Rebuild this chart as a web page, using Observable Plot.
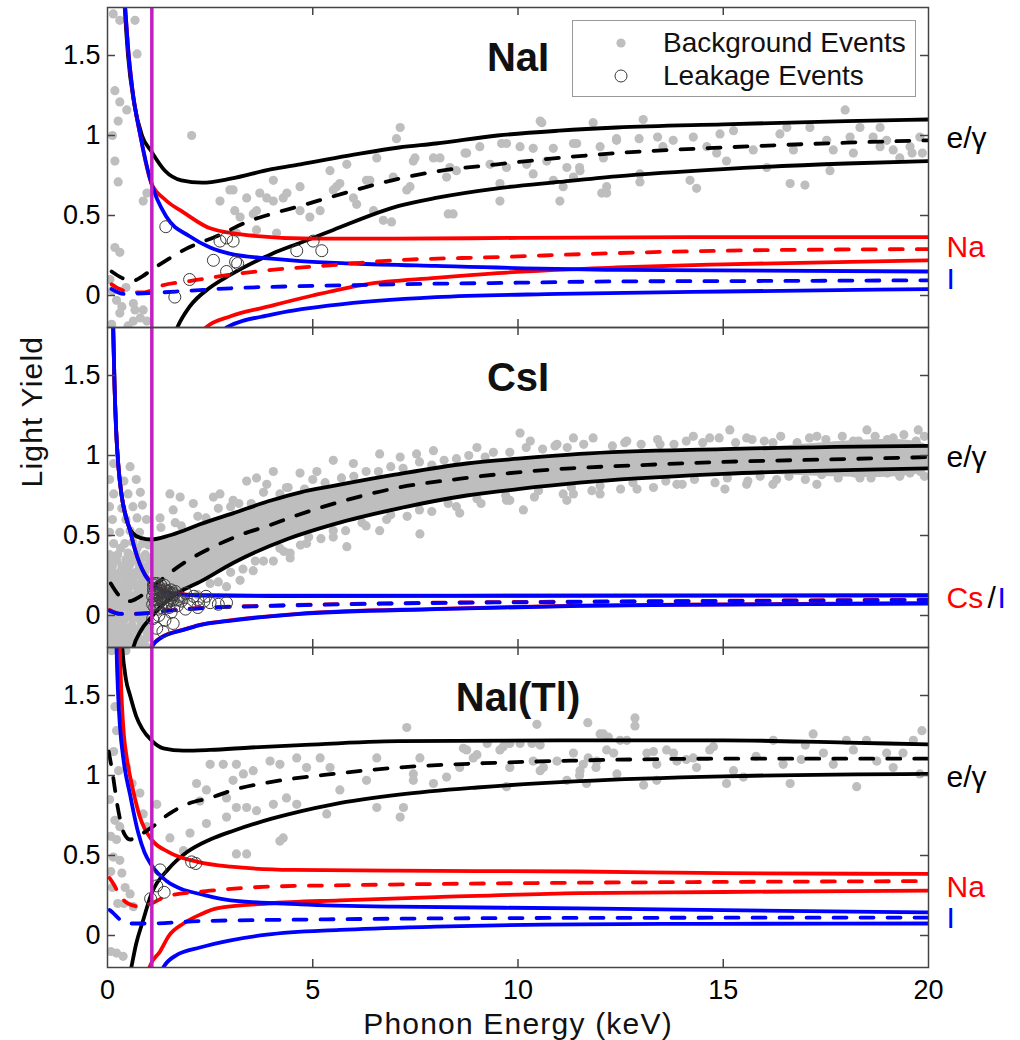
<!DOCTYPE html>
<html><head><meta charset="utf-8">
<script src="https://cdn.jsdelivr.net/npm/d3@7"></script>
<script src="https://cdn.jsdelivr.net/npm/@observablehq/plot@0.6"></script>
<style>
body{margin:0;background:#fff;font-family:"Liberation Sans",Arial,sans-serif;}
#wrap{position:relative;width:1020px;height:1040px;}
#legend{position:absolute;left:572px;top:20px;width:342px;height:75px;border:1.5px solid #999;background:#fff;}
#legend .row{position:absolute;left:0;height:32px;width:340px;}
#legend svg{position:absolute;left:38px;top:6px;}
#legend span{position:absolute;left:90px;top:0;font-size:28px;line-height:32px;color:#111;white-space:nowrap;}
</style></head><body><div id="wrap"></div><script>
// ---------- data ----------
const panels = ["NaI","CsI","NaI(Tl)"];
const xTicks = [0,5,10,15,20];
const xTickLabels = ["0","5","10","15","20"];
const yTicks = [0,0.5,1,1.5];
const yTickLabels = ["0","0.5","1","1.5"];
const thresholdKeV = 1.08;

// NaI curves
const naiEgUp  = [[0.36,2.1],[0.42,1.8],[0.5,1.5],[0.65,1.2],[0.84,1.0],[1.07,0.9],[1.4,0.78],[1.8,0.72],[2.3,0.705],[3,0.73],[4,0.79],[4.7,0.82],[6,0.88],[7.1,0.925],[8,0.95],[9.5,1.0],[11,1.03],[12.4,1.05],[15,1.07],[18,1.09],[20,1.1]];
const naiEgMid = [[0.1,0.15],[0.35,0.11],[0.6,0.09],[0.85,0.12],[1.07,0.16],[1.5,0.23],[1.9,0.29],[2.7,0.375],[3.4,0.46],[4,0.51],[4.7,0.56],[5.5,0.62],[7.1,0.73],[8,0.775],[9.5,0.82],[11,0.86],[12.4,0.89],[15,0.925],[18,0.955],[20,0.97]];
const naiEgLow = [[1.55,-0.3],[1.7,-0.2],[2,-0.07],[2.5,0.05],[3,0.13],[4,0.26],[4.7,0.33],[5.5,0.41],[7.1,0.56],[8,0.61],[9.5,0.67],[11,0.71],[12.4,0.745],[15,0.79],[18,0.825],[20,0.84]];
const naiNaUp  = [[0.36,2.1],[0.43,1.8],[0.5,1.55],[0.6,1.3],[0.8,1.0],[1.07,0.7],[1.4,0.6],[1.85,0.52],[2.5,0.42],[3.5,0.375],[5,0.355],[7,0.355],[10,0.36],[15,0.365],[20,0.365]];
const naiNaMid = [[0.1,0.07],[0.3,0.04],[0.6,0.02],[0.9,0.02],[1.3,0.06],[2,0.09],[3,0.13],[4,0.16],[5,0.18],[7,0.22],[9.5,0.24],[12.4,0.265],[15,0.28],[20,0.29]];
const naiNaLow = [[2.2,-0.3],[2.4,-0.2],[3,-0.13],[3.9,-0.07],[5,0.0],[6.3,0.07],[8,0.11],[9.5,0.14],[12.4,0.175],[15,0.195],[20,0.22]];
const naiIUp   = [[0.36,2.1],[0.43,1.8],[0.5,1.55],[0.6,1.3],[0.8,1.0],[1.07,0.7],[1.44,0.49],[2,0.37],[2.5,0.3],[3,0.26],[4,0.23],[4.7,0.215],[6,0.2],[8,0.185],[12.4,0.16],[20,0.15]];
const naiIMid  = [[0.1,0.04],[0.4,0.01],[1,0.015],[2,0.03],[3,0.045],[5,0.06],[7,0.07],[10,0.08],[12.4,0.088],[15,0.09],[20,0.095]];
const naiILow  = [[2.7,-0.3],[2.9,-0.2],[4,-0.12],[5.5,-0.06],[8,-0.01],[11,0.01],[15,0.025],[20,0.04]];

// CsI curves
const csiEgUp  = [[0.12,2.1],[0.14,1.78],[0.17,1.45],[0.21,1.16],[0.27,0.92],[0.35,0.74],[0.45,0.61],[0.6,0.52],[0.8,0.485],[1.07,0.475],[1.5,0.5],[1.85,0.53],[2.25,0.57],[3.07,0.64],[4,0.72],[4.7,0.77],[5.5,0.81],[7,0.88],[8.75,0.95],[10,0.98],[11.5,1.01],[15,1.04],[20,1.06]];
const csiEgMid = [[0.08,0.2],[0.3,0.12],[0.55,0.09],[0.8,0.12],[1.07,0.17],[1.44,0.25],[1.93,0.34],[2.5,0.42],[3.2,0.5],[3.9,0.56],[4.6,0.625],[5.8,0.72],[7.1,0.8],[8.6,0.855],[10,0.895],[11.3,0.92],[13,0.94],[15,0.96],[17.5,0.975],[20,0.99]];
const csiEgLow = [[0.55,-0.3],[0.63,-0.2],[0.8,-0.1],[1.07,-0.01],[1.4,0.08],[1.85,0.16],[2.25,0.21],[3.07,0.33],[4.4,0.48],[5.5,0.57],[7.1,0.67],[8.75,0.75],[10,0.79],[11.5,0.83],[15,0.885],[20,0.92]];
const csiCsUp  = [[0.12,2.1],[0.14,1.78],[0.17,1.45],[0.21,1.16],[0.27,0.92],[0.35,0.74],[0.45,0.62],[0.55,0.53],[0.65,0.43],[0.79,0.32],[0.92,0.255],[1.07,0.205],[1.44,0.15],[1.8,0.133],[2.25,0.127],[4,0.124],[10,0.125],[20,0.127]];
const csiCsMid = [[0.05,0.035],[0.3,0.012],[0.7,0.012],[1.5,0.032],[2.25,0.047],[4,0.062],[7,0.077],[11.5,0.087],[15,0.092],[20,0.099]];
const csiCsLow = [[0.98,-0.3],[1.07,-0.2],[1.3,-0.138],[1.85,-0.088],[2.25,-0.058],[3.07,-0.028],[4.7,0.012],[8,0.042],[11.5,0.062],[15,0.07],[20,0.077]];
const csiIUp   = [[0.12,2.1],[0.14,1.78],[0.17,1.45],[0.21,1.16],[0.27,0.92],[0.35,0.74],[0.45,0.62],[0.55,0.53],[0.65,0.43],[0.79,0.32],[0.92,0.25],[1.07,0.2],[1.44,0.145],[1.8,0.13],[2.25,0.125],[4,0.122],[10,0.123],[20,0.125]];
const csiIMid  = [[0.05,0.03],[0.3,0.01],[0.7,0.01],[1.5,0.03],[2.25,0.045],[4,0.06],[7,0.075],[11.5,0.085],[15,0.09],[20,0.097]];
const csiILow  = [[0.98,-0.3],[1.07,-0.2],[1.3,-0.14],[1.85,-0.09],[2.25,-0.06],[3.07,-0.03],[4.7,0.01],[8,0.04],[11.5,0.06],[15,0.068],[20,0.075]];

// NaI(Tl) curves
const tlEgUp  = [[0.3,2.1],[0.36,1.8],[0.45,1.6],[0.55,1.5],[0.7,1.37],[0.85,1.29],[1.07,1.22],[1.36,1.17],[1.85,1.155],[2.5,1.16],[3.5,1.175],[4.7,1.19],[7.1,1.215],[11,1.22],[15,1.22],[18,1.205],[20,1.195]];
const tlEgMid = [[0.03,1.15],[0.12,1.02],[0.25,0.8],[0.4,0.64],[0.55,0.6],[0.8,0.63],[1.07,0.675],[1.5,0.76],[1.93,0.82],[2.5,0.86],[3.07,0.91],[4,0.96],[5.5,1.01],[7.1,1.05],[9.5,1.08],[11.5,1.094],[15,1.105],[20,1.105]];
const tlEgLow = [[0.5,-0.3],[0.58,-0.2],[0.7,-0.05],[0.85,0.08],[1.07,0.26],[1.5,0.42],[1.93,0.52],[2.5,0.6],[3.07,0.655],[4,0.73],[5.5,0.82],[7.1,0.88],[9,0.925],[11.5,0.965],[15,0.995],[20,1.01]];
const tlNaUp  = [[0.27,2.1],[0.3,1.8],[0.35,1.45],[0.4,1.25],[0.47,1.11],[0.63,0.9],[0.79,0.74],[0.9,0.67],[1.07,0.6],[1.5,0.52],[2.2,0.46],[3,0.43],[4.5,0.41],[7,0.405],[11.5,0.4],[15,0.39],[20,0.385]];
const tlNaMid = [[0.05,0.36],[0.14,0.325],[0.3,0.25],[0.5,0.2],[0.8,0.18],[1.07,0.2],[1.44,0.245],[2.5,0.28],[3.9,0.305],[6,0.315],[11.5,0.33],[15,0.335],[20,0.34]];
const tlNaLow = [[0.97,-0.3],[1.02,-0.2],[1.28,-0.1],[1.5,0.0],[1.85,0.075],[2.25,0.13],[2.66,0.17],[3.9,0.2],[5.66,0.22],[8,0.24],[11.5,0.265],[15,0.272],[20,0.28]];
const tlIUp   = [[0.2,2.1],[0.22,1.8],[0.26,1.5],[0.3,1.32],[0.4,1.08],[0.55,0.88],[0.75,0.64],[0.9,0.52],[1.07,0.44],[1.44,0.34],[1.8,0.29],[2.25,0.26],[3,0.22],[4.7,0.195],[7,0.18],[11.5,0.17],[15,0.158],[20,0.145]];
const tlIMid  = [[0.05,0.16],[0.14,0.14],[0.3,0.1],[0.47,0.075],[1,0.075],[2.25,0.09],[5,0.1],[11.5,0.11],[20,0.112]];
const tlILow  = [[1.3,-0.3],[1.36,-0.2],[1.7,-0.12],[2.25,-0.075],[3,-0.03],[3.88,0.005],[5.66,0.035],[8,0.055],[11.5,0.07],[15,0.073],[20,0.075]];

// background events
const naiBg = [[0.14,1.76],[0.3,1.72],[0.67,1.72],[0.72,1.51],[0.18,1.28],[0.3,1.21],[0.26,1.09],[0.47,1.16],[0.12,1.0],[0.18,0.84],[0.26,0.71],[0.87,0.59],[0.96,0.64],[0.18,0.3],[0.3,0.27],[0.22,-0.03],[0.35,-0.07],[0.67,-0.09],[0.8,-0.14],[0.96,-0.16],[0.1,-0.18],[0.5,-0.19],[0.06,0.1],[0.12,0.03],[0.63,-0.05],[0.87,-0.09],[0.3,-0.11],[0.63,-0.16],[0.45,0.05],
[2.05,1.0],[2.74,0.59],[3.06,0.66],[3.1,0.53],[3.39,0.61],[3.63,0.53],[3.71,0.64],[4.04,0.59],[4.37,0.64],[4.69,0.68],[4.93,0.49],[5.42,0.78],[5.83,0.82],[5.99,0.61],[6.31,0.72],[6.48,0.53],[6.72,0.47],[6.96,0.74],[7.13,1.05],[7.29,0.66],[7.45,0.84],[7.94,0.86],[8.34,0.8],[8.42,0.51],[8.75,0.89],[9.07,0.93],[9.32,0.82],[9.56,0.7],[9.72,0.95],[10.05,0.93],[10.21,0.82],[10.37,0.76],[10.54,1.09],[10.7,0.84],[10.86,0.72],[11.02,0.59],[11.19,0.8],[11.35,0.95],
[2.98,0.66],[3.23,0.49],[3.55,0.51],[3.88,0.61],[4.04,0.72],[4.12,0.39],[4.28,0.61],[4.69,0.53],[5.18,0.53],[5.58,0.68],[3.14,0.39],[3.63,0.41],
[7.04,0.98],[5.66,0.7],[5.5,0.66],[6.07,0.57],[6.39,0.72],[6.56,0.86],[6.92,0.46],[7.37,0.68],[7.49,0.86],[8.1,0.86],[8.26,0.74],[8.3,0.51],[8.5,0.78],[8.71,0.89],[9.6,0.95],[9.72,0.8],[9.56,0.59],[10.37,0.92],[10.58,1.08],[10.86,0.92],[11.1,0.68],[11.43,0.95],[11.51,0.78],
[11.83,1.08],[12.0,0.93],[12.16,0.64],[12.4,0.97],[13.05,1.1],[12.4,0.98],[12.95,0.98],[13.4,0.99],[12.08,0.86],[11.5,0.8],[11.35,0.74],[12.16,0.68],[12.04,0.64],[12.97,0.76],[12.97,0.71],[13.53,0.93],[13.78,0.97],[14.27,0.99],[14.19,0.72],[14.35,0.67],[14.6,0.93],[14.84,0.89],[14.92,1.01],[15.25,1.03],[15.08,0.84],[15.73,0.91],[16.06,0.8],[16.38,1.01],[16.55,1.05],[16.71,0.91],[16.63,0.7],[16.99,0.69],[17.11,1.05],[17.52,0.97],[17.6,0.78],[17.68,0.91],[17.97,1.16],[18.09,0.99],[18.17,0.89],[18.33,1.05],[18.65,0.99],[18.82,1.05],[18.82,0.93],[18.98,0.97],[19.14,0.91],[19.3,0.86],[19.55,0.93],[19.6,0.89],[19.79,0.99],[19.85,0.89]];

const csiBg = [[0.05,-0.17],[0.25,-0.17],[0.45,-0.17],[0.6,-0.16],[0.85,-0.17],[0.1,-0.1],[0.3,-0.1],[0.5,-0.1],[0.7,-0.09],[0.95,-0.1],[0.05,-0.03],[0.22,-0.03],[0.4,-0.03],[0.6,-0.02],[0.8,-0.03],[1.0,-0.03],[0.12,0.04],[0.3,0.04],[0.5,0.04],[0.7,0.05],[0.9,0.04],[0.05,0.1],[0.22,0.1],[0.42,0.11],[0.62,0.1],[0.85,0.1],[1.02,0.11],[0.12,0.17],[0.32,0.17],[0.55,0.18],[0.75,0.17],[0.95,0.17],[0.05,0.24],[0.25,0.24],[0.45,0.25],[0.65,0.24],[0.85,0.24],[0.12,0.31],[0.35,0.31],[0.55,0.32],[0.78,0.31],[0.98,0.31],[0.05,0.38],[0.25,0.38],[0.5,0.39],[0.7,0.38],[0.92,0.38],[0.15,0.45],[0.42,0.45],[0.62,0.46],[0.85,0.45],[1.0,0.44],[0.05,0.52],[0.3,0.52],[0.55,0.53],[0.78,0.52],[0.12,0.6],[0.45,0.6],[0.72,0.61],[0.95,0.6],[0.05,0.68],[0.35,0.67],[0.62,0.68],[0.85,0.69],[0.15,0.76],[0.5,0.76],[0.8,0.77],[0.05,0.85],[0.4,0.84],[0.7,0.85],[0.15,0.95],[0.55,0.93],
[0.15,-0.135],[0.35,-0.135],[0.55,-0.13],[0.75,-0.135],[0.95,-0.14],[0.02,-0.065],[0.2,-0.065],[0.4,-0.065],[0.6,-0.06],[0.82,-0.065],[1.02,-0.07],[0.13,0.005],[0.32,0.005],[0.5,0.0],[0.7,0.01],[0.9,0.0],[0.02,0.07],[0.2,0.07],[0.4,0.075],[0.6,0.07],[0.8,0.07],[1.0,0.07],[0.12,0.135],[0.32,0.14],[0.52,0.135],[0.72,0.14],[0.92,0.135],[0.02,0.205],[0.22,0.2],[0.42,0.21],[0.62,0.2],[0.82,0.205],[1.0,0.2],[0.12,0.275],[0.32,0.275],[0.52,0.28],[0.72,0.275],[0.92,0.275],[0.02,0.345],[0.22,0.345],[0.45,0.35],[0.62,0.345],[0.82,0.35],
[0.15,-0.19],[0.35,-0.19],[0.55,-0.195],[0.75,-0.19],[0.95,-0.195],[0.0,-0.13],[0.45,-0.1],[0.85,-0.05],[0.28,0.02],[0.6,0.035],[0.8,0.02],[0.15,0.085],[0.52,0.09],[0.95,0.09],[0.05,0.15],[0.43,0.16],[0.85,0.155],[0.15,0.23],[0.55,0.22],[0.95,0.23],[0.05,0.3],[0.45,0.3],[0.85,0.3],[0.15,0.37],[0.6,0.37],[1.0,0.36],[0.32,0.42],[0.72,0.42],
[1.8,0.56],[2.4,0.61],[3.0,0.68],[3.5,0.7],[4.2,0.76],[4.8,0.79],[5.3,0.83],[6.0,0.87],[6.6,0.9],[7.2,0.92],[7.9,0.94],[8.5,0.98],[9.2,0.99],[9.8,1.02],[10.6,1.04],[11.2,1.05],[12.3,1.06],[13.0,1.07],[13.8,1.07],[14.5,1.08],[15.3,1.08],[16.0,1.09],[16.8,1.08],[17.5,1.1],[18.3,1.09],[19.0,1.1],[19.7,1.09],
[1.3,0.55],[1.65,0.58],[2.2,0.62],[2.7,0.67],[3.2,0.7],[3.8,0.77],[4.4,0.8],[5.0,0.85],[5.7,0.86],[6.3,0.9],[6.9,0.93],[7.6,0.96],[8.2,0.97],[8.8,1.0],[9.4,1.02],[10.2,1.05],[10.9,1.06],[11.6,1.07],[12.6,1.08],[13.4,1.1],[14.1,1.09],[14.9,1.11],[15.7,1.1],[16.4,1.12],[17.1,1.11],[17.9,1.12],[18.7,1.12],[19.4,1.13],[19.9,1.12],
[1.9,0.1],[2.5,0.2],[3.0,0.27],[3.6,0.34],[4.2,0.42],[4.9,0.49],[5.5,0.53],[6.2,0.58],[6.9,0.63],[7.6,0.66],[8.3,0.7],[9.0,0.73],[9.7,0.75],[10.5,0.78],[11.3,0.8],[12.0,0.81],[12.8,0.83],[13.6,0.84],[14.3,0.85],[15.1,0.86],[15.9,0.87],[16.6,0.87],[17.4,0.88],[18.2,0.89],[19.0,0.89],[19.8,0.9],
[1.7,0.08],[2.2,0.13],[2.7,0.21],[3.3,0.29],[3.8,0.34],[4.3,0.4],[4.7,0.44],[5.2,0.48],[5.8,0.53],[6.3,0.56],[6.8,0.6],[7.3,0.62],[7.9,0.65],[8.5,0.68],[9.1,0.7],[9.8,0.72],[10.4,0.74],[11.1,0.76],[11.8,0.78],[12.5,0.79],[13.3,0.8],[14.0,0.82],[14.8,0.83],[15.6,0.84],[16.3,0.85],[17.0,0.85],[17.8,0.86],[18.6,0.86],[19.3,0.87],[19.9,0.87],
[1.52,0.76],[1.77,0.74],[2.09,0.7],[2.58,0.74],[2.74,0.76],[3.39,0.84],[3.63,0.86],[4.04,0.9],[3.88,0.82],[3.06,0.72],[1.28,0.61],[1.6,0.66],[4.36,0.8],[5.1,0.9],[5.5,0.97],[6.63,1.01],[7.13,0.99],[7.94,1.03],[9.0,1.05],[10.05,1.14],[10.3,1.09],[10.95,1.07],[11.35,1.11],[7.53,1.01],[4.69,0.89],[5.99,0.95],
[3.23,0.22],[3.55,0.28],[4.04,0.34],[4.45,0.36],[2.9,0.18],[4.45,0.39],[5.83,0.43],[5.5,0.49],[7.61,0.51],[10.13,0.66],[9.72,0.72],[6.63,0.53],[4.85,0.45],[8.58,0.64],[11.19,0.72],
[15.16,1.16],[14.27,1.12],[11.83,1.11],[12.65,1.09],[14.67,1.11],[15.57,1.11],[16.21,1.08],[17.28,1.12],[18.5,1.16],[19.14,1.11],[19.75,1.16],[18.17,1.09],[13.46,1.07],[11.35,0.76],[12.0,0.76],[12.9,0.79],[15.04,0.79],[16.21,0.82],[17.28,0.82],[18.33,0.86],[19.55,0.89],[13.87,0.82],[15.57,0.82]];

const tlBg = [[0.1,1.78],[0.3,1.79],[0.45,1.78],[0.18,1.43],[0.22,1.28],[0.15,1.15],[0.27,1.03],[0.47,1.05],[0.79,0.89],[0.18,0.72],[0.3,0.68],[0.08,0.62],[0.22,0.6],[0.14,0.49],[0.3,0.47],[0.35,0.39],[0.43,0.3],[0.55,0.26],[0.63,0.18],[0.22,-0.11],[0.38,-0.13],[0.08,-0.1],[0.87,0.76],[0.96,0.68],[0.12,0.3],[0.4,0.2],[0.05,0.85],[0.6,0.95],[0.08,0.4],[0.25,0.2],
[2.5,1.07],[2.82,1.07],[3.14,1.07],[2.17,0.95],[2.41,0.91],[3.06,0.97],[3.31,1.01],[3.55,1.03],[3.96,1.09],[4.2,1.07],[4.61,1.11],[4.85,1.05],[5.18,1.11],[5.42,1.05],[5.66,0.91],[6.31,0.97],[6.56,1.11],[6.56,0.8],[7.21,0.8],[7.13,0.74],[7.29,1.3],[7.61,1.11],[7.45,1.01],[8.26,0.99],[8.75,1.16],[8.91,1.11],[9.56,1.16],[9.8,1.05],[10.46,1.32],[10.62,1.05],[10.95,1.09],[11.35,1.14],
[2.25,0.84],[2.9,0.86],[3.14,0.8],[3.39,0.8],[3.63,0.78],[4.04,0.82],[4.36,0.86],[4.61,0.82],[5.34,0.76],
[1.2,0.82],[1.52,0.61],[2.01,0.64],[2.41,0.7],[2.9,0.74],[4.28,0.61],[4.2,0.59],[3.14,0.51],[3.39,0.51],[1.85,0.53],
[11.7,1.33],[12.85,1.36],[12.85,1.31],[8.67,1.17],[9.0,1.13],[9.25,1.2],[9.8,1.2],[10.05,1.2],[10.34,1.2],[9.64,1.18],[10.54,1.19],[7.45,0.97],[7.94,0.95],[8.58,1.05],[9.72,0.93],[10.37,1.09],[10.54,1.03],[11.19,0.97],[11.51,1.03],[11.67,0.95],[12.0,1.26],[12.2,1.24],[12.49,1.22],[12.33,1.14],[13.14,1.14],[13.38,1.07],[13.06,0.94],[13.38,0.97],[13.62,1.16],[13.79,1.14],[13.87,1.09],[14.35,1.05],[14.67,1.16],[14.27,1.11],[12.41,1.01],[11.59,1.07],[11.92,1.09],
[12.08,1.26],[12.65,1.22],[11.71,1.11],[12.16,1.16],[11.5,1.0],[11.9,1.05],[13.3,1.15],[14.1,1.1],[14.76,1.18],[15.08,0.95],[15.25,1.03],[15.49,0.99],[16.22,1.22],[16.46,1.07],[16.63,0.95],[17.19,1.26],[17.44,1.14],[17.68,1.07],[18.0,1.22],[18.17,1.16],[18.25,0.93],[18.49,1.22],[18.74,1.09],[19.14,1.05],[19.38,1.14],[19.63,1.22],[19.84,1.28],[19.79,1.01],[18.98,1.14],[15.8,1.12],[16.9,1.1],[17.0,1.19]];

// leakage events
const naiLk = [[1.42,0.43],[2.0,0.1],[1.64,-0.01],[2.58,0.22],[2.9,0.15],[3.12,0.21],[3.17,0.2],[2.74,0.34],[2.9,0.36],[3.06,0.34],[4.61,0.28],[5.01,0.34],[5.22,0.28]];
const csiLk = [[1.15,0.15],[1.2,0.1],[1.25,0.18],[1.3,0.05],[1.35,0.12],[1.4,0.16],[1.45,0.08],[1.5,0.13],[1.55,0.02],[1.6,0.1],[1.65,0.15],[1.7,0.06],[1.75,0.12],[1.8,0.09],[1.9,0.14],[2.0,0.07],[2.1,0.12],[2.2,0.1],[2.35,0.09],[2.5,0.08],[2.7,0.07],[1.25,0.0],[1.4,-0.03],[1.6,-0.05],[1.2,0.13],[1.3,0.15],[1.45,0.12],[1.55,0.16],[1.35,0.08],[1.5,0.05],[1.7,0.1],[1.15,0.05],[1.9,0.04],[2.2,0.05],[1.12,0.19],[1.18,0.07],[1.28,0.11],[1.38,0.19],[1.48,0.15],[1.62,0.13],[2.4,0.12],[2.9,0.08],[1.1,-0.02],[1.2,-0.08],[1.35,-0.1],
[1.1,0.12],[1.12,0.16],[1.15,0.1],[1.18,0.17],[1.22,0.14],[1.25,0.08],[1.28,0.16],[1.32,0.1],[1.36,0.14],[1.4,0.11],[1.44,0.15],[1.48,0.1],[1.52,0.14],[1.56,0.11],[1.6,0.14],[1.14,0.2],[1.2,0.2],[1.3,0.19],[1.1,0.07],[1.24,0.04]];
const tlLk = [[1.28,0.41],[1.2,0.31],[1.05,0.23],[1.38,0.27],[2.05,0.46],[2.15,0.45]];

// right-hand labels
const labelPanels = ["NaI","NaI","NaI","CsI","CsI","NaI(Tl)","NaI(Tl)","NaI(Tl)"];
const labelTexts  = ["e/γ","Na","I","e/γ","Cs","e/γ","Na","I"];
const labelValues = [0.98,0.30,0.10,0.99,0.11,0.99,0.30,0.11];
const labelSpecies = ["eg","Na","I","eg","Na","eg","Na","I"];

// ---------- build tables ----------
const colorOf = {eg:"#000000", Na:"#ff0000", I:"#0000ff"};
const curveSeries = [
  ["NaI","eg","up",naiEgUp],["NaI","eg","mid",naiEgMid],["NaI","eg","low",naiEgLow],
  ["NaI","Na","up",naiNaUp],["NaI","Na","mid",naiNaMid],["NaI","Na","low",naiNaLow],
  ["NaI","I","up",naiIUp],["NaI","I","mid",naiIMid],["NaI","I","low",naiILow],
  ["CsI","eg","up",csiEgUp],["CsI","eg","mid",csiEgMid],["CsI","eg","low",csiEgLow],
  ["CsI","Na","up",csiCsUp],["CsI","Na","mid",csiCsMid],["CsI","Na","low",csiCsLow],
  ["CsI","I","up",csiIUp],["CsI","I","mid",csiIMid],["CsI","I","low",csiILow],
  ["NaI(Tl)","eg","up",tlEgUp],["NaI(Tl)","eg","mid",tlEgMid],["NaI(Tl)","eg","low",tlEgLow],
  ["NaI(Tl)","Na","up",tlNaUp],["NaI(Tl)","Na","mid",tlNaMid],["NaI(Tl)","Na","low",tlNaLow],
  ["NaI(Tl)","I","up",tlIUp],["NaI(Tl)","I","mid",tlIMid],["NaI(Tl)","I","low",tlILow]
];
const curveRows = [];
curveSeries.forEach(([panel, sp, band, pts]) => pts.forEach(([x, y]) =>
  curveRows.push({panel, id: panel + "-" + sp + "-" + band, band, color: colorOf[sp], x, y})));
const solidRows = curveRows.filter(d => d.band !== "mid");
const dashRows = curveRows.filter(d => d.band === "mid");

const toRows = (panel, pts) => pts.map(([x, y]) => ({panel, x, y}));
const bgRows = [...toRows("NaI", naiBg), ...toRows("CsI", csiBg), ...toRows("NaI(Tl)", tlBg)];
const lkRows = [...toRows("NaI", naiLk), ...toRows("CsI", csiLk), ...toRows("NaI(Tl)", tlLk)];

// dense CsI e/γ band (between the two solid e/γ curves, right of threshold)
const bandRows = [
  ...csiEgUp.filter(([x]) => x >= 1.0),
  ...csiEgLow.filter(([x]) => x >= 1.0).reverse()
].map(([x, y]) => ({panel: "CsI", x, y}));

const labelRows = labelTexts.map((t, i) => ({panel: labelPanels[i], text: t, y: labelValues[i], color: colorOf[labelSpecies[i]]}));

// ---------- plot ----------
const FS = "'Liberation Sans', Arial, Helvetica, sans-serif";
const frameColor = "#444";
const plot = Plot.plot({
  width: 1020, height: 1040,
  marginTop: 7, marginBottom: 73, marginLeft: 107, marginRight: 92,
  style: {fontFamily: FS, background: "white", overflow: "visible"},
  x: {domain: [0, 20]},
  y: {domain: [-0.2, 1.8]},
  fy: {domain: panels, padding: 0, axis: null},
  color: {type: "identity"},
  marks: [
    Plot.line(bandRows, {x: "x", y: "y", fy: "panel", fill: "#bebebe", stroke: "none", curve: "catmull-rom", clip: true}),
    Plot.dot(bgRows, {x: "x", y: "y", fy: "panel", r: 4.6, fill: "#bebebe", stroke: "none", clip: true}),
    Plot.line(solidRows, {x: "x", y: "y", z: "id", fy: "panel", stroke: "color", strokeWidth: 3.8, curve: "monotone-x", clip: true}),
    Plot.line(dashRows, {x: "x", y: "y", z: "id", fy: "panel", stroke: "color", strokeWidth: 3.8, strokeDasharray: "13,14", curve: "monotone-x", clip: true}),
    Plot.dot(lkRows, {x: "x", y: "y", fy: "panel", r: 6, fill: "none", stroke: "#3a3a3a", strokeWidth: 1, clip: true}),
    Plot.ruleX([thresholdKeV], {x: d => d, stroke: "#c21fc2", strokeWidth: 3.5}),
    Plot.frame({stroke: frameColor, strokeWidth: 1.5}),
    Plot.tickX(xTicks.slice(1, -1), {x: d => d, insetTop: 312, stroke: frameColor, strokeWidth: 1.5}),
    Plot.tickX(xTicks.slice(1, -1), {x: d => d, insetBottom: 312, stroke: frameColor, strokeWidth: 1.5}),
    Plot.tickY(yTicks, {y: d => d, insetRight: 813, stroke: frameColor, strokeWidth: 1.5}),
    Plot.tickY(yTicks, {y: d => d, insetLeft: 813, stroke: frameColor, strokeWidth: 1.5}),
    Plot.axisY({ticks: yTicks, tickFormat: d => yTickLabels[yTicks.indexOf(d)], tickSize: 0, tickPadding: 7, fontSize: 27, label: null}),
    Plot.axisX({ticks: xTicks, tickFormat: d => xTickLabels[xTicks.indexOf(d)], tickSize: 0, tickPadding: 12, fontSize: 27, label: null}),
    Plot.text(panels, {fy: d => d, text: d => d, frameAnchor: "top", dy: 35, fontSize: 40, fontWeight: "bold", fill: "#111"}),
    Plot.text(labelRows, {fy: "panel", y: "y", text: "text", fill: "color", frameAnchor: "right", textAnchor: "start", dx: 18, fontSize: 30}),
    Plot.text(["/"], {fy: () => "CsI", y: () => labelValues[4], text: d => d, fill: "#000", frameAnchor: "right", textAnchor: "start", dx: 59, fontSize: 30}),
    Plot.text(["I"], {fy: () => "CsI", y: () => labelValues[4], text: d => d, fill: colorOf.I, frameAnchor: "right", textAnchor: "start", dx: 69, fontSize: 30}),
    Plot.text(["Light Yield"], {fy: () => "CsI", text: d => d, frameAnchor: "left", dx: -75, rotate: -90, fontSize: 30, fill: "#111"}),
    Plot.text(["Phonon Energy (keV)"], {fy: () => "NaI(Tl)", text: d => d, frameAnchor: "bottom", lineAnchor: "middle", dy: 57, fontSize: 30, fill: "#111"})
  ]
});
const wrap = document.getElementById("wrap");
wrap.appendChild(plot);
d3.select(plot).selectAll("text").filter(function(){ return this.textContent === "Light Yield" || this.textContent === "Phonon Energy (keV)"; }).attr("letter-spacing", "1.2px");

// legend (panel NaI)
const legendItems = [
  {label: "Background Events", kind: "bg"},
  {label: "Leakage Events", kind: "lk"}
];
const leg = document.createElement("div");
leg.id = "legend";
legendItems.forEach((it, i) => {
  const row = document.createElement("div");
  row.className = "row";
  row.style.top = (6 + i * 33) + "px";
  const sym = it.kind === "bg"
    ? '<circle cx="10" cy="10" r="4.6" fill="#bebebe"/>'
    : '<circle cx="10" cy="10" r="6" fill="none" stroke="#3a3a3a" stroke-width="1"/>';
  row.innerHTML = '<svg width="20" height="20">' + sym + '</svg><span>' + it.label + '</span>';
  leg.appendChild(row);
});
wrap.appendChild(leg);
</script></body></html>
